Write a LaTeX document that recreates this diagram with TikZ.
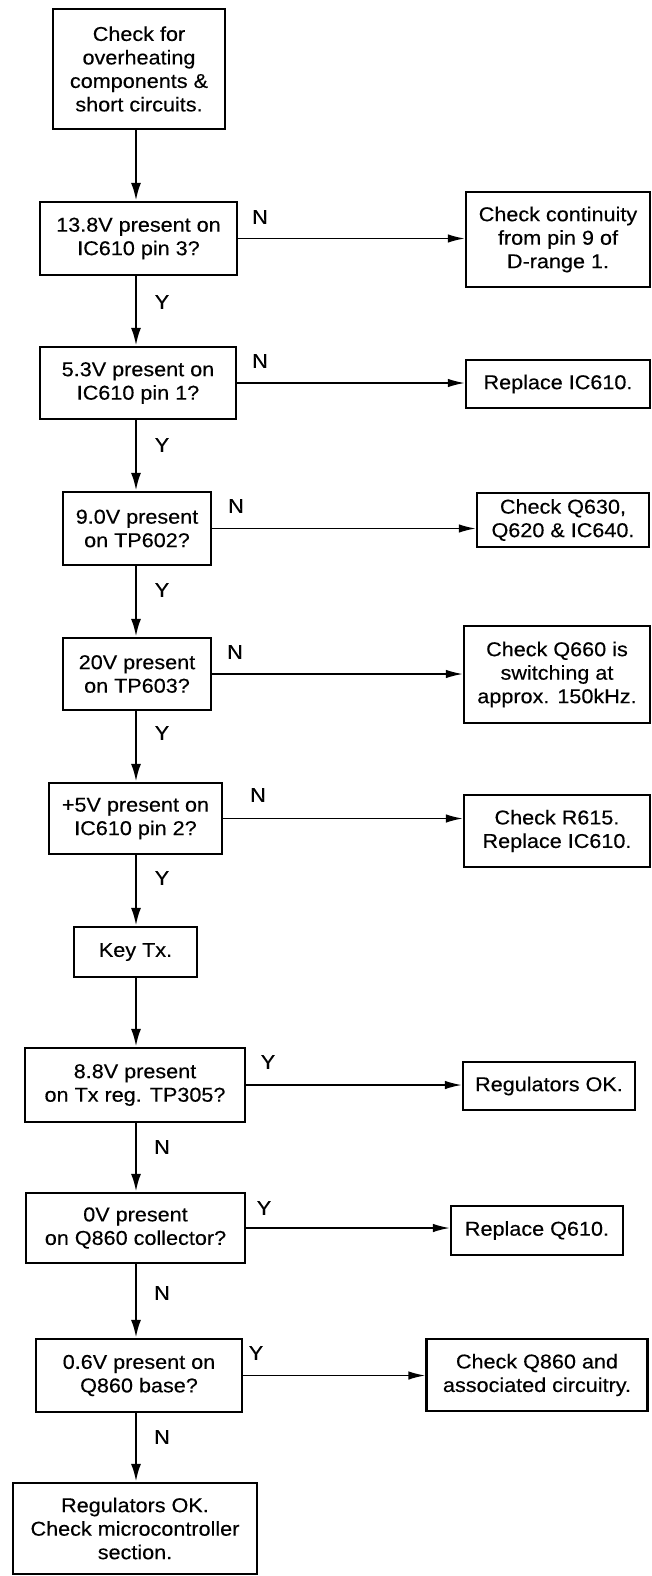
\documentclass[tikz,border=0pt]{standalone}
\usepackage{fontspec}
\setmainfont[FakeStretch=1.08,FakeBold=0.3]{Liberation Sans}
\usetikzlibrary{arrows.meta}
\begin{document}
\begin{tikzpicture}[x=1pt,y=-1pt,
  box/.style={draw, line width=2.2pt, inner sep=0pt, align=center,
    font=\fontsize{20}{23.5}\selectfont},
  varr/.style={line width=2.6pt, -{Latex[length=18pt,width=10pt]}},
  harr/.style={line width=1.7pt, -{Latex[length=17pt,width=8.5pt]}},
  lab/.style={font=\fontsize{20}{22}\selectfont, inner sep=0pt}]
\useasboundingbox (0,0) rectangle (652,1576);
\coordinate (col) at (136,0);

% left column
\node[box, minimum width=172pt, minimum height=120pt] (b1) at (139,69) {Check for\\overheating\\components \&\\short circuits.};
\node[box, minimum width=197pt, minimum height=73pt] (b2) at (138.5,238.5) {13.8V present on\\IC610 pin 3?};
\node[box, minimum width=196pt, minimum height=72pt] (b3) at (138,383) {5.3V present on\\IC610 pin 1?};
\node[box, minimum width=148pt, minimum height=73pt] (b4) at (137,528.5) {9.0V present\\on TP602?};
\node[box, minimum width=148pt, minimum height=72pt] (b5) at (137,674) {20V present\\on TP603?};
\node[box, minimum width=173pt, minimum height=71pt] (b6) at (135.5,818.5) {+5V present on\\IC610 pin 2?};
\node[box, minimum width=123pt, minimum height=50pt] (b7) at (135.5,952) {Key Tx.};
\node[box, minimum width=220pt, minimum height=74pt] (b8) at (135,1085) {8.8V present\\on Tx reg. TP305?};
\node[box, minimum width=219pt, minimum height=70pt] (b9) at (135.5,1228) {0V present\\on Q860 collector?};
\node[box, minimum width=206pt, minimum height=73pt] (b10) at (139,1375.5) {0.6V present on\\Q860 base?};
\node[box, minimum width=244pt, minimum height=91pt] (b11) at (135,1528.5) {Regulators OK.\\Check microcontroller\\section.};

% right column
\node[box, minimum width=184pt, minimum height=95pt] (r1) at (558,239.5) {Check continuity\\from pin 9 of\\D-range 1.};
\node[box, minimum width=184pt, minimum height=48pt] (r2) at (558,384) {Replace IC610.};
\node[box, minimum width=172pt, minimum height=54pt] (r3) at (563,520) {Check Q630,\\Q620 \& IC640.};
\node[box, minimum width=186pt, minimum height=97pt] (r4) at (557,674.5) {Check Q660 is\\switching at\\approx. 150kHz.};
\node[box, minimum width=186pt, minimum height=72pt] (r5) at (557,831) {Check R615.\\Replace IC610.};
\node[box, minimum width=172pt, minimum height=48pt] (r6) at (549,1086) {Regulators OK.};
\node[box, minimum width=172pt, minimum height=49pt] (r7) at (537,1230.5) {Replace Q610.};
\node[box, minimum width=221pt, minimum height=72pt] (r8) at (537,1375) {Check Q860 and\\associated circuitry.};

% vertical arrows
\draw[varr] (b1.south -| col) -- (b2.north -| col);
\draw[varr] (b2.south -| col) -- (b3.north -| col);
\draw[varr] (b3.south -| col) -- (b4.north -| col);
\draw[varr] (b4.south -| col) -- (b5.north -| col);
\draw[varr] (b5.south -| col) -- (b6.north -| col);
\draw[varr] (b6.south -| col) -- (b7.north -| col);
\draw[varr] (b7.south -| col) -- (b8.north -| col);
\draw[varr] (b8.south -| col) -- (b9.north -| col);
\draw[varr] (b9.south -| col) -- (b10.north -| col);
\draw[varr] (b10.south -| col) -- (b11.north -| col);

% horizontal arrows
\draw[harr] (b2.east) -- (b2.east -| r1.west);
\draw[harr] (b3.east) -- (b3.east -| r2.west);
\draw[harr] (b4.east) -- (b4.east -| r3.west);
\draw[harr] (b5.east) -- (b5.east -| r4.west);
\draw[harr] (b6.east) -- (b6.east -| r5.west);
\draw[harr] (b8.east) -- (b8.east -| r6.west);
\draw[harr] (b9.east) -- (b9.east -| r7.west);
\draw[harr] (b10.east) -- (b10.east -| r8.west);

% vertical labels
\node[lab] (ly1) at (162,302) {Y};
\node[lab] (ly2) at (162,445) {Y};
\node[lab] (ly3) at (162,590) {Y};
\node[lab] (ly4) at (162,733) {Y};
\node[lab] (ly5) at (162,878) {Y};
\node[lab] (ln6) at (162,1147) {N};
\node[lab] (ln7) at (162,1293) {N};
\node[lab] (ln8) at (162,1437) {N};

% horizontal labels
\node[lab] (hn1) at (260,217) {N};
\node[lab] (hn2) at (260,361) {N};
\node[lab] (hn3) at (236,506) {N};
\node[lab] (hn4) at (235,652) {N};
\node[lab] (hn5) at (258,795) {N};
\node[lab] (hy6) at (268,1062) {Y};
\node[lab] (hy7) at (264,1208) {Y};
\node[lab] (hy8) at (256,1353) {Y};
\end{tikzpicture}
\end{document}
